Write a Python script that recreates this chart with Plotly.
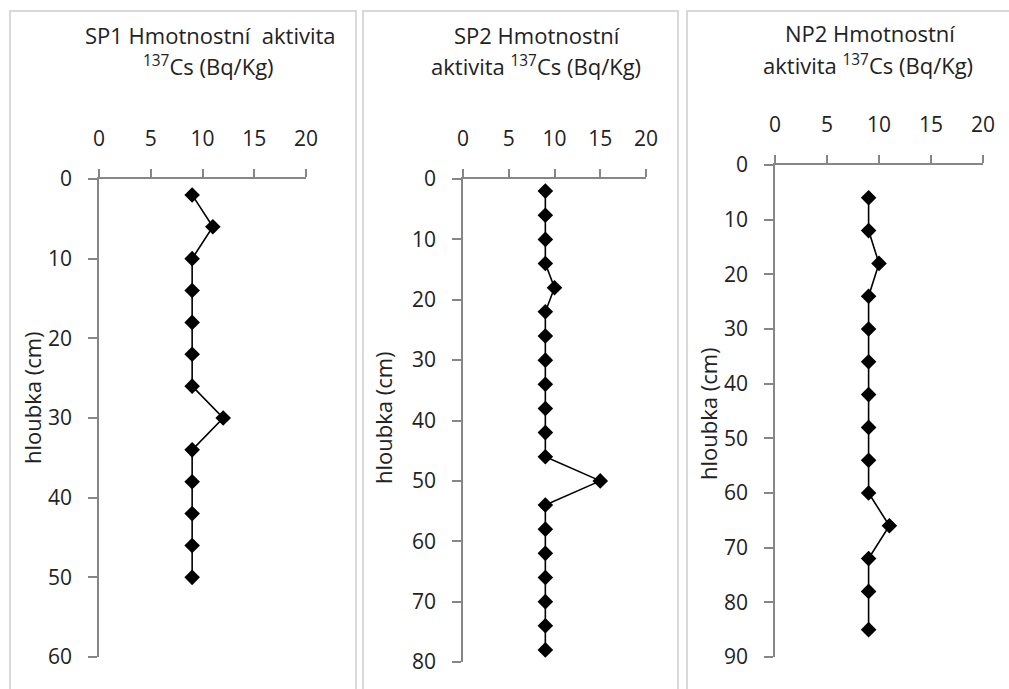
import plotly.graph_objects as go

# Depth profiles (cm) and mass activity of 137Cs (Bq/kg)
sp1_depth = [2, 6, 10, 14, 18, 22, 26, 30, 34, 38, 42, 46, 50]
sp1_act = [9, 11, 9, 9, 9, 9, 9, 12, 9, 9, 9, 9, 9]

sp2_depth = [2, 6, 10, 14, 18, 22, 26, 30, 34, 38, 42, 46, 50, 54, 58, 62, 66, 70, 74, 78]
sp2_act = [9, 9, 9, 9, 10, 9, 9, 9, 9, 9, 9, 9, 15, 9, 9, 9, 9, 9, 9, 9]

np2_depth = [6, 12, 18, 24, 30, 36, 42, 48, 54, 60, 66, 72, 78, 85]
np2_act = [9, 9, 10, 9, 9, 9, 9, 9, 9, 9, 11, 9, 9, 9]

x_ticks = [0, 5, 10, 15, 20]
depth_max = [60, 80, 90]
titles = [
    ("SP1 Hmotnostní  aktivita", "<sup>137</sup>Cs (Bq/Kg)"),
    ("SP2 Hmotnostní", "aktivita <sup>137</sup>Cs (Bq/Kg)"),
    ("NP2 Hmotnostní", "aktivita <sup>137</sup>Cs (Bq/Kg)"),
]
y_title = "hloubka (cm)"

W, H = 1009, 689
FONT = "Open Sans"
FS_TICK = 21
FS_TITLE = 22
TEXT = "#222222"
AXIS = "#868686"


def px(x):
    return x / W


def py(y):
    return 1 - y / H


# plot areas in pixels: (left, right, top, bottom)
areas = [(99, 306, 179, 657), (463, 646, 179, 662), (775, 983, 165, 657)]
frames = [(10, 356), (363, 678), (687, 1015)]
title_pos = [((210, 35), (208, 66)), ((537, 35), (536, 66)), ((870, 33), (868, 64))]
ytitle_pos = [(32, 398), (383, 418), (708, 414)]

series = [(sp1_depth, sp1_act), (sp2_depth, sp2_act), (np2_depth, np2_act)]

fig = go.Figure()
layout = dict(
    width=W, height=H,
    margin=dict(l=0, r=0, t=0, b=0, autoexpand=False),
    paper_bgcolor="white", plot_bgcolor="white",
    showlegend=False,
    font=dict(family=FONT, size=FS_TICK, color=TEXT),
)

annotations = []
shapes = []
for i, ((depth, act), (l, r, t, b)) in enumerate(zip(series, areas)):
    n = "" if i == 0 else str(i + 1)
    fig.add_trace(go.Scatter(
        x=act, y=depth, mode="lines+markers",
        xaxis="x" + n, yaxis="y" + n,
        line=dict(color="black", width=1.6),
        marker=dict(symbol="diamond", size=12, color="black"),
    ))
    layout["xaxis" + n] = dict(
        domain=[px(l), px(r)], anchor="y" + n, side="top", automargin=False,
        range=[0, 20], tickvals=x_ticks, showgrid=False, zeroline=False,
        showline=True, linecolor=AXIS, linewidth=1.5,
        ticks="outside", ticklen=8, tickcolor=AXIS, tickwidth=1.5,
        ticklabelstandoff=15,
        tickfont=dict(family=FONT, size=FS_TICK, color=TEXT),
    )
    layout["yaxis" + n] = dict(
        domain=[py(b), py(t)], anchor="x" + n, automargin=False,
        range=[depth_max[i], 0], dtick=10, showgrid=False, zeroline=False,
        showline=True, linecolor=AXIS, linewidth=1.5,
        ticks="outside", ticklen=9, tickcolor=AXIS, tickwidth=1.5,
        ticklabelstandoff=12,
        tickfont=dict(family=FONT, size=FS_TICK, color=TEXT),
    )
    # panel frame
    fl, fr = frames[i]
    shapes.append(dict(type="rect", xref="paper", yref="paper",
                       x0=px(fl), x1=px(fr), y0=py(H + 10), y1=py(11),
                       line=dict(color="#d9d9d9", width=2), fillcolor="rgba(0,0,0,0)",
                       layer="below"))
    # two-line chart title
    for (tx, ty), txt in zip(title_pos[i], titles[i]):
        annotations.append(dict(text=txt, x=px(tx), y=py(ty), xref="paper", yref="paper",
                                xanchor="center", yanchor="middle", showarrow=False,
                                font=dict(family=FONT, size=FS_TITLE, color=TEXT)))
    yx, yy = ytitle_pos[i]
    annotations.append(dict(text=y_title, x=px(yx), y=py(yy), xref="paper", yref="paper",
                            xanchor="center", yanchor="middle", showarrow=False,
                            textangle=-90, font=dict(family=FONT, size=FS_TITLE, color=TEXT)))

layout["annotations"] = annotations
layout["shapes"] = shapes
fig.update_layout(**layout)
fig.write_html("out.html")
